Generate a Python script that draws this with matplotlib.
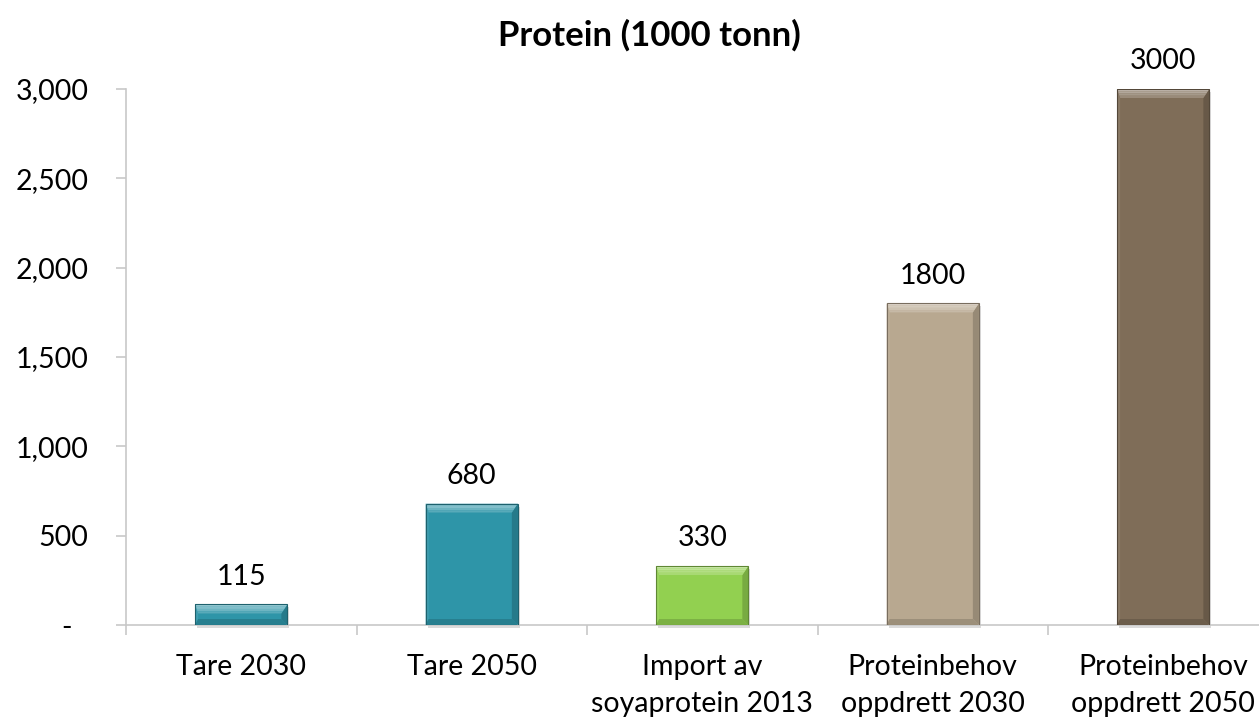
import numpy as np
import matplotlib
matplotlib.use("Agg")
from matplotlib import pyplot as plt
from matplotlib.patches import Polygon, Rectangle
from matplotlib.ticker import FuncFormatter, FixedLocator
from matplotlib.colors import to_rgb

categories = ["Tare 2030", "Tare 2050", "Import av\nsoyaprotein 2013",
              "Proteinbehov\noppdrett 2030", "Proteinbehov\noppdrett 2050"]
values = [115, 680, 330, 1800, 3000]
bar_colors = ["#2E95A8", "#2E95A8", "#92D050", "#B8A890", "#7F6D58"]

plt.rcParams["font.family"] = ["Lato", "DejaVu Sans"]
FS = 20.5


def mix(color, other, amount):
    c = np.array(to_rgb(color))
    o = np.array(to_rgb(other))
    return tuple(c + (o - c) * amount)


def bevel_bar(ax, x0, w, h, color, top=9, bottom=6, left=3, right=6):
    # pixel scale of the data axes, so the bevel keeps a fixed on-screen size
    p0 = ax.transData.transform((0, 0))
    p1 = ax.transData.transform((1, 1))
    sx = p1[0] - p0[0]
    sy = p1[1] - p0[1]
    h_px = h * sy
    scale = min(1.0, 0.8 * h_px / (top + bottom))
    bt = top * scale / sy
    bb = bottom * scale / sy
    bl = left / sx
    br = right / sx
    x1 = x0 + w

    # soft drop shadow
    ax.add_patch(Rectangle((x0 + 2 / sx, -3 / sy), w, h, color="#9A9A9A",
                           alpha=0.35, lw=0, zorder=1, clip_on=False))
    ax.add_patch(Rectangle((x0, 0), w, h, color=color, lw=0, zorder=2))
    faces = [
        ([(x1, 0), (x1, h), (x1 - br, h - bt), (x1 - br, bb)], mix(color, "black", 0.18)),
        ([(x0, 0), (x0, h), (x0 + bl, h - bt), (x0 + bl, bb)], mix(color, "white", 0.08)),
        ([(x0, 0), (x1, 0), (x1 - br, bb), (x0 + bl, bb)], mix(color, "black", 0.15)),
    ]
    for pts, fc in faces:
        ax.add_patch(Polygon(pts, closed=True, fc=fc, ec="none", zorder=3))
    # top bevel as a few bands, light at the edge fading into the face
    n = 4
    for i in range(n):
        f0, f1 = i / n, (i + 1) / n
        pts = [(x0 + bl * f0, h - bt * f0), (x1 - br * f0, h - bt * f0),
               (x1 - br * f1, h - bt * f1), (x0 + bl * f1, h - bt * f1)]
        ax.add_patch(Polygon(pts, closed=True, fc=mix(color, "white", 0.5 - 0.1 * i),
                             ec="none", zorder=3))
    ax.add_patch(Rectangle((x0, 0), w, h, fc="none", ec=mix(color, "black", 0.35),
                           lw=0.8, zorder=4))


fig = plt.figure(figsize=(12.59, 7.22), dpi=100)
ax = fig.add_axes([126 / 1259, 1 - 625 / 722, 1 - 126 / 1259, (625 - 89) / 722])

x = np.arange(len(categories))
width = 0.40
ax.set_xlim(-0.5, -0.5 + (1259 - 126) / 230.5)
ax.set_ylim(0, 3000)

for xi, v, c in zip(x, values, bar_colors):
    bevel_bar(ax, xi - width / 2, width, v, c)
    ax.annotate(str(v), (xi, v), xytext=(0, 20), textcoords="offset points",
                ha="center", va="center", fontsize=FS, color="black")

for side in ["top", "right"]:
    ax.spines[side].set_visible(False)
ax.spines["left"].set_color("#C8C8C8")
ax.spines["bottom"].set_color("#C8C8C8")
ax.spines["left"].set_linewidth(1.2)
ax.spines["bottom"].set_linewidth(1.2)

ax.set_yticks(np.arange(0, 3001, 500))
# accounting style: zero shown as a dash, with a figure space after it
ax.yaxis.set_major_formatter(FuncFormatter(lambda v, _: "-\u2007" if v == 0 else f"{v:,.0f}"))
ax.tick_params(axis="y", length=7, width=1.2, color="#C8C8C8", pad=20, labelsize=FS)

ax.set_xticks(x)
ax.set_xticklabels(categories, fontsize=FS, linespacing=1.5)
ax.xaxis.set_minor_locator(FixedLocator(np.arange(-0.5, 5, 1)))
ax.tick_params(axis="x", which="major", length=0, pad=21)
ax.tick_params(axis="x", which="minor", length=7, width=1.2, color="#C8C8C8")

fig.text(649 / 1259, 1 - 35 / 722, "Protein (1000 tonn)", ha="center", va="center",
         fontsize=25, fontweight="bold")

fig.savefig("out.png", dpi=100)
